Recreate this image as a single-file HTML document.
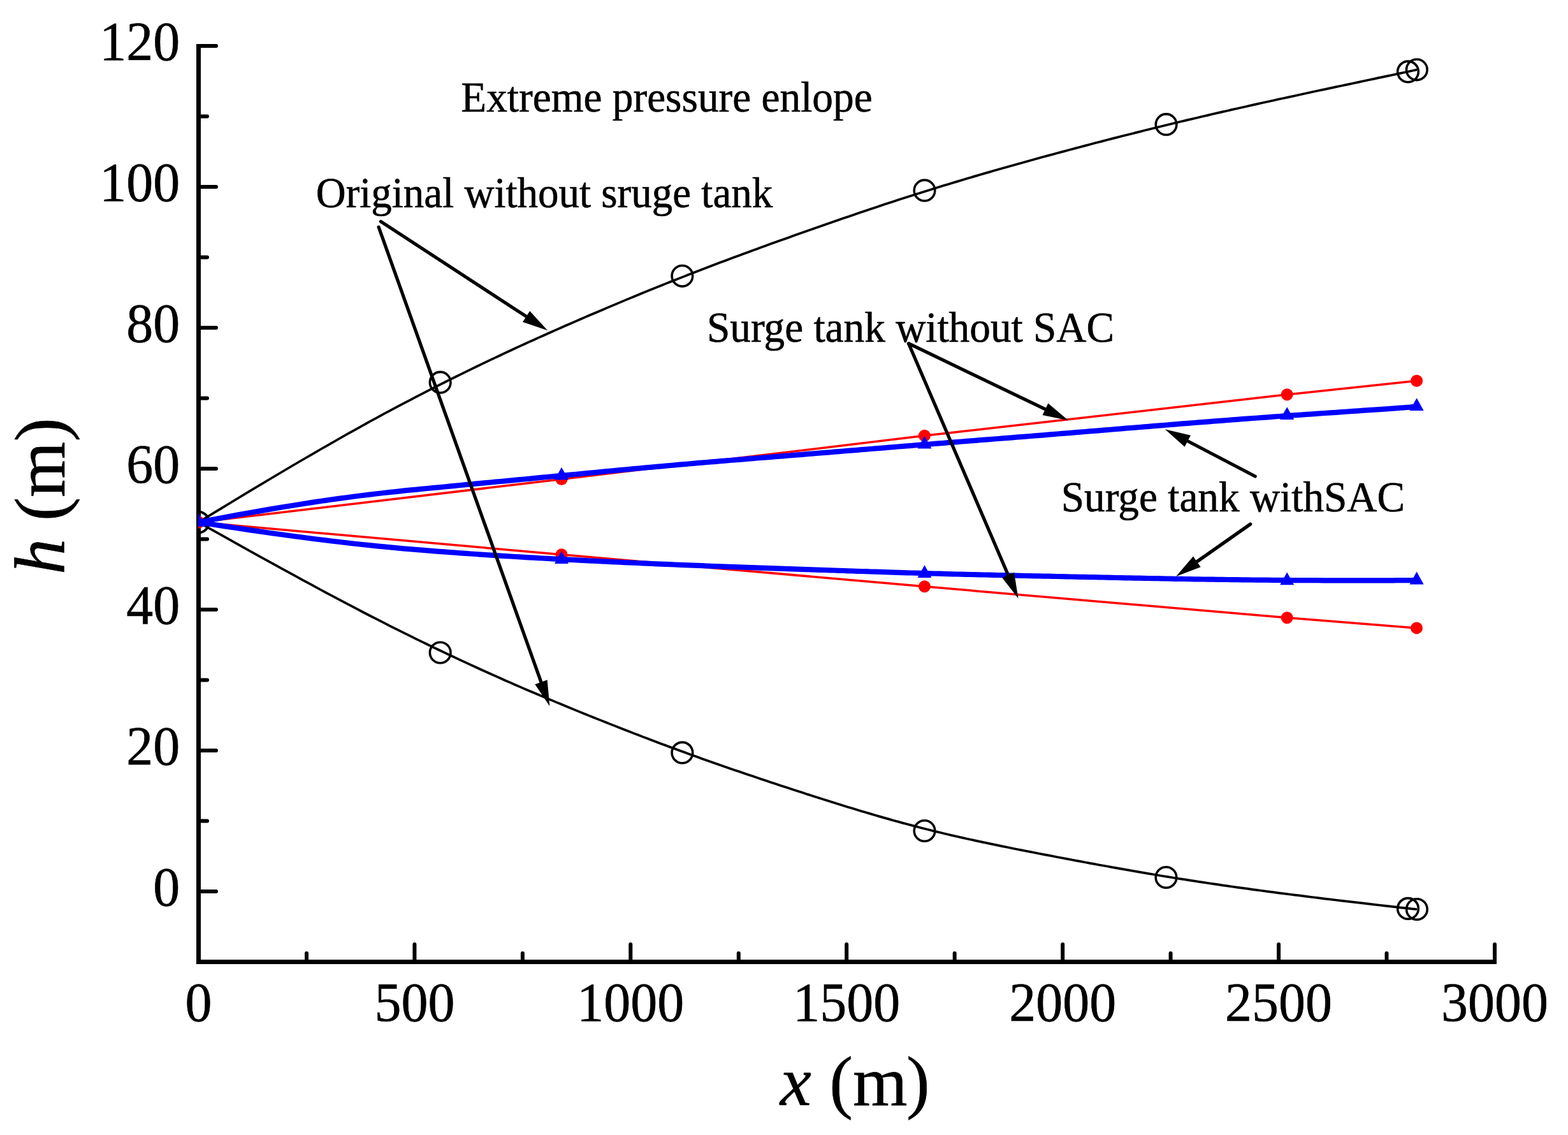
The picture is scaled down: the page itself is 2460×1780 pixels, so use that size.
<!DOCTYPE html>
<html lang="en"><head><meta charset="utf-8"><title>Extreme pressure envelope</title>
<style>html,body{margin:0;padding:0;background:#fff}svg{display:block}text{font-family:"Liberation Serif", serif;fill:#000}</style></head><body>
<svg width="2460" height="1780" viewBox="0 0 2460 1780" role="img" aria-label="Extreme pressure envelope chart">
<rect width="2460" height="1780" fill="#fff"/>
<defs><clipPath id="plot"><rect x="311" y="0" width="2149" height="1510"/></clipPath></defs>
<g stroke="#000" fill="none">
<path d="M311.5 69V1512M308 1508.5H2348" stroke-width="7"/>
<path d="M312 1398.0H339M312 1177.0H339M312 956.0H339M312 735.0H339M312 514.0H339M312 293.0H339M312 72.0H339M312 1287.5H325M312 1066.5H325M312 845.5H325M312 624.5H325M312 403.5H325M312 182.5H325M650.4 1508V1481M989.3 1508V1481M1328.2 1508V1481M1667.2 1508V1481M2006.1 1508V1481M2345.0 1508V1481M481.0 1508V1495M819.9 1508V1495M1158.8 1508V1495M1497.7 1508V1495M1836.6 1508V1495M2175.5 1508V1495" stroke-width="6" stroke-linecap="round"/>
</g>
<g clip-path="url(#plot)" fill="none" stroke-linejoin="round">
<polyline points="311.5,819.0 332.5,806.1 352.8,793.8 372.3,782.0 391.1,770.7 409.1,759.8 426.5,749.5 443.3,739.5 459.4,730.0 474.8,721.0 489.8,712.3 504.1,704.0 518.0,696.1 531.3,688.5 544.1,681.2 556.5,674.3 568.5,667.6 580.1,661.2 591.3,655.1 602.1,649.2 612.6,643.6 622.8,638.1 632.8,632.9 642.5,627.8 651.9,622.9 661.2,618.1 670.3,613.4 679.2,608.9 688.0,604.4 696.7,600.0 705.3,595.7 713.7,591.5 722.1,587.4 730.3,583.4 738.4,579.4 746.4,575.5 754.4,571.7 762.2,567.9 770.0,564.2 777.7,560.6 785.3,557.0 792.8,553.4 800.3,550.0 807.7,546.5 815.1,543.1 822.5,539.8 829.8,536.4 837.0,533.2 844.2,529.9 851.4,526.7 858.6,523.5 865.8,520.3 872.9,517.1 880.1,514.0 887.2,510.8 894.4,507.7 901.5,504.6 908.7,501.5 915.8,498.4 923.0,495.3 930.1,492.3 937.3,489.2 944.4,486.2 951.6,483.1 958.7,480.1 965.9,477.1 973.0,474.1 980.1,471.1 987.3,468.1 994.4,465.2 1001.6,462.2 1008.7,459.3 1015.9,456.4 1023.0,453.5 1030.2,450.6 1037.3,447.7 1044.5,444.9 1051.6,442.0 1058.8,439.2 1065.9,436.4 1073.1,433.6 1080.2,430.8 1087.3,428.0 1094.5,425.2 1101.6,422.5 1108.8,419.7 1115.9,417.0 1123.1,414.3 1130.2,411.6 1137.4,408.9 1144.5,406.2 1151.7,403.6 1158.8,400.9 1166.0,398.3 1173.1,395.7 1180.3,393.0 1187.4,390.4 1194.6,387.8 1201.7,385.2 1208.8,382.6 1216.0,380.1 1223.1,377.5 1230.3,374.9 1237.4,372.4 1244.6,369.8 1251.7,367.3 1258.9,364.8 1266.0,362.3 1273.2,359.7 1280.3,357.2 1287.5,354.7 1294.6,352.2 1301.8,349.7 1308.9,347.3 1316.1,344.8 1323.2,342.3 1330.3,339.9 1337.5,337.4 1344.6,335.0 1351.8,332.6 1358.9,330.2 1366.1,327.8 1373.2,325.4 1380.4,323.0 1387.5,320.6 1394.7,318.3 1401.8,316.0 1409.0,313.6 1416.1,311.3 1423.3,309.0 1430.4,306.7 1437.6,304.4 1444.7,302.2 1451.8,299.9 1459.0,297.7 1466.1,295.5 1473.3,293.3 1480.4,291.1 1487.6,288.9 1494.7,286.7 1501.9,284.6 1509.0,282.5 1516.2,280.3 1523.3,278.2 1530.5,276.1 1537.6,274.0 1544.8,271.9 1551.9,269.9 1559.1,267.8 1566.2,265.8 1573.3,263.7 1580.5,261.7 1587.6,259.7 1594.8,257.7 1601.9,255.7 1609.1,253.7 1616.2,251.7 1623.4,249.8 1630.5,247.8 1637.7,245.8 1644.8,243.9 1652.0,242.0 1659.1,240.0 1666.3,238.1 1673.4,236.2 1680.6,234.3 1687.7,232.4 1694.8,230.5 1702.0,228.6 1709.1,226.7 1716.3,224.8 1723.4,223.0 1730.6,221.1 1737.7,219.3 1744.9,217.4 1752.0,215.6 1759.2,213.8 1766.3,212.0 1773.5,210.2 1780.6,208.4 1787.8,206.6 1794.9,204.8 1802.1,203.0 1809.2,201.2 1816.3,199.5 1823.5,197.7 1830.6,196.0 1837.8,194.3 1844.9,192.5 1852.1,190.8 1859.3,189.1 1866.5,187.4 1873.7,185.7 1881.0,184.0 1888.3,182.3 1895.6,180.6 1903.0,178.8 1910.4,177.1 1917.9,175.4 1925.5,173.7 1933.1,171.9 1940.8,170.2 1948.5,168.5 1956.4,166.7 1964.3,164.9 1972.3,163.1 1980.5,161.3 1988.7,159.5 1997.0,157.7 2005.4,155.8 2014.0,154.0 2022.7,152.1 2031.5,150.2 2040.4,148.2 2049.5,146.3 2058.6,144.3 2067.8,142.3 2077.1,140.4 2086.3,138.4 2095.5,136.4 2104.6,134.5 2113.6,132.6 2122.4,130.7 2131.2,128.9 2139.7,127.0 2148.0,125.3 2156.0,123.6 2163.7,121.9 2171.2,120.4 2178.3,118.9 2185.0,117.5 2191.2,116.1 2197.1,114.9 2202.5,113.7 2207.3,112.7 2211.7,111.8 2215.4,111.0 2218.6,110.3 2221.1,109.7 2223.0,109.3" stroke="#000" stroke-width="3.7"/>
<polyline points="311.5,819.0 332.5,830.9 352.8,842.2 372.3,853.1 391.1,863.6 409.1,873.6 426.5,883.2 443.3,892.4 459.4,901.2 474.8,909.7 489.8,917.7 504.1,925.5 518.0,932.9 531.3,939.9 544.1,946.7 556.5,953.2 568.5,959.5 580.1,965.5 591.3,971.2 602.1,976.7 612.6,982.1 622.8,987.2 632.8,992.1 642.5,996.9 651.9,1001.6 661.2,1006.1 670.3,1010.5 679.2,1014.8 688.0,1019.0 696.7,1023.2 705.3,1027.2 713.7,1031.2 722.1,1035.1 730.3,1038.9 738.4,1042.7 746.4,1046.3 754.4,1050.0 762.2,1053.5 770.0,1057.0 777.7,1060.4 785.3,1063.8 792.8,1067.2 800.3,1070.4 807.7,1073.7 815.1,1076.9 822.5,1080.1 829.8,1083.2 837.0,1086.3 844.2,1089.3 851.4,1092.4 858.6,1095.4 865.8,1098.4 872.9,1101.4 880.1,1104.3 887.2,1107.3 894.4,1110.2 901.5,1113.1 908.7,1116.1 915.8,1119.0 923.0,1121.9 930.1,1124.7 937.3,1127.6 944.4,1130.4 951.6,1133.3 958.7,1136.1 965.9,1138.9 973.0,1141.7 980.1,1144.5 987.3,1147.3 994.4,1150.1 1001.6,1152.8 1008.7,1155.6 1015.9,1158.3 1023.0,1161.0 1030.2,1163.7 1037.3,1166.4 1044.5,1169.0 1051.6,1171.7 1058.8,1174.3 1065.9,1176.9 1073.1,1179.6 1080.2,1182.2 1087.3,1184.7 1094.5,1187.3 1101.6,1189.9 1108.8,1192.4 1115.9,1194.9 1123.1,1197.4 1130.2,1199.9 1137.4,1202.4 1144.5,1204.9 1151.7,1207.4 1158.8,1209.8 1166.0,1212.3 1173.1,1214.7 1180.3,1217.1 1187.4,1219.5 1194.6,1221.9 1201.7,1224.3 1208.8,1226.7 1216.0,1229.1 1223.1,1231.4 1230.3,1233.8 1237.4,1236.1 1244.6,1238.4 1251.7,1240.8 1258.9,1243.1 1266.0,1245.4 1273.2,1247.7 1280.3,1250.0 1287.5,1252.2 1294.6,1254.5 1301.8,1256.8 1308.9,1259.0 1316.1,1261.2 1323.2,1263.5 1330.3,1265.7 1337.5,1267.8 1344.6,1270.0 1351.8,1272.2 1358.9,1274.3 1366.1,1276.4 1373.2,1278.5 1380.4,1280.6 1387.5,1282.6 1394.7,1284.6 1401.8,1286.7 1409.0,1288.6 1416.1,1290.6 1423.3,1292.5 1430.4,1294.4 1437.6,1296.3 1444.7,1298.2 1451.8,1300.0 1459.0,1301.8 1466.1,1303.6 1473.3,1305.3 1480.4,1307.0 1487.6,1308.7 1494.7,1310.4 1501.9,1312.0 1509.0,1313.6 1516.2,1315.2 1523.3,1316.8 1530.5,1318.4 1537.6,1319.9 1544.8,1321.4 1551.9,1322.9 1559.1,1324.4 1566.2,1325.9 1573.3,1327.4 1580.5,1328.8 1587.6,1330.3 1594.8,1331.7 1601.9,1333.1 1609.1,1334.5 1616.2,1335.9 1623.4,1337.3 1630.5,1338.7 1637.7,1340.1 1644.8,1341.4 1652.0,1342.8 1659.1,1344.2 1666.3,1345.5 1673.4,1346.9 1680.6,1348.2 1687.7,1349.6 1694.8,1350.9 1702.0,1352.2 1709.1,1353.6 1716.3,1354.9 1723.4,1356.2 1730.6,1357.5 1737.7,1358.8 1744.9,1360.1 1752.0,1361.4 1759.2,1362.6 1766.3,1363.9 1773.5,1365.1 1780.6,1366.4 1787.8,1367.6 1794.9,1368.9 1802.1,1370.1 1809.2,1371.3 1816.3,1372.5 1823.5,1373.7 1830.6,1374.8 1837.8,1376.0 1844.9,1377.2 1852.1,1378.3 1859.3,1379.4 1866.5,1380.6 1873.7,1381.7 1881.0,1382.8 1888.3,1383.9 1895.6,1385.0 1903.0,1386.1 1910.4,1387.2 1917.9,1388.3 1925.5,1389.4 1933.1,1390.5 1940.8,1391.6 1948.5,1392.6 1956.4,1393.7 1964.3,1394.8 1972.3,1395.9 1980.5,1397.0 1988.7,1398.1 1997.0,1399.2 2005.4,1400.3 2014.0,1401.4 2022.7,1402.5 2031.5,1403.6 2040.4,1404.7 2049.5,1405.9 2058.6,1407.0 2067.8,1408.1 2077.1,1409.3 2086.3,1410.4 2095.5,1411.5 2104.6,1412.6 2113.6,1413.7 2122.4,1414.7 2131.2,1415.7 2139.7,1416.7 2148.0,1417.7 2156.0,1418.6 2163.7,1419.5 2171.2,1420.4 2178.3,1421.2 2185.0,1421.9 2191.2,1422.6 2197.1,1423.3 2202.5,1423.9 2207.3,1424.4 2211.7,1424.9 2215.4,1425.3 2218.6,1425.6 2221.1,1425.8 2223.0,1426.0" stroke="#000" stroke-width="3.7"/>
<circle cx="311.5" cy="819.0" r="16.3" stroke="#000" stroke-width="3.6"/>
<circle cx="690.7" cy="599.7" r="16.3" stroke="#000" stroke-width="3.6"/>
<circle cx="1070.4" cy="432.8" r="16.3" stroke="#000" stroke-width="3.6"/>
<circle cx="1450.5" cy="298.7" r="16.3" stroke="#000" stroke-width="3.6"/>
<circle cx="1829.6" cy="195.2" r="16.3" stroke="#000" stroke-width="3.6"/>
<circle cx="2209.0" cy="112.4" r="16.3" stroke="#000" stroke-width="3.6"/>
<circle cx="2222.8" cy="109.3" r="16.3" stroke="#000" stroke-width="3.6"/>
<circle cx="311.5" cy="819.0" r="16.3" stroke="#000" stroke-width="3.6"/>
<circle cx="690.7" cy="1023.5" r="16.3" stroke="#000" stroke-width="3.6"/>
<circle cx="1070.4" cy="1180.4" r="16.3" stroke="#000" stroke-width="3.6"/>
<circle cx="1450.5" cy="1303.0" r="16.3" stroke="#000" stroke-width="3.6"/>
<circle cx="1829.5" cy="1376.0" r="16.3" stroke="#000" stroke-width="3.6"/>
<circle cx="2209.0" cy="1424.9" r="16.3" stroke="#000" stroke-width="3.6"/>
<circle cx="2222.9" cy="1426.0" r="16.3" stroke="#000" stroke-width="3.6"/>
<polyline points="311.5,819.0 881.0,751.5 1450.5,683.3 2019.2,618.8 2222.6,597.2" stroke="#f00" stroke-width="3.5"/>
<polyline points="311.5,819.0 881.0,869.8 1450.5,919.8 2019.2,968.8 2222.5,984.9" stroke="#f00" stroke-width="3.5"/>
<circle cx="311.5" cy="819.0" r="9.5" fill="#f00"/>
<circle cx="881.0" cy="751.5" r="9.5" fill="#f00"/>
<circle cx="1450.5" cy="683.3" r="9.5" fill="#f00"/>
<circle cx="2019.2" cy="618.8" r="9.5" fill="#f00"/>
<circle cx="2222.6" cy="597.2" r="9.5" fill="#f00"/>
<circle cx="311.5" cy="819.0" r="9.5" fill="#f00"/>
<circle cx="881.0" cy="869.8" r="9.5" fill="#f00"/>
<circle cx="1450.5" cy="919.8" r="9.5" fill="#f00"/>
<circle cx="2019.2" cy="968.8" r="9.5" fill="#f00"/>
<circle cx="2222.5" cy="984.9" r="9.5" fill="#f00"/>
<polyline points="311.5,819.0 332.5,815.0 352.8,811.2 372.3,807.6 391.1,804.2 409.1,801.1 426.5,798.1 443.3,795.3 459.4,792.7 474.8,790.2 489.8,787.9 504.1,785.8 518.0,783.8 531.3,781.9 544.1,780.2 556.5,778.5 568.5,777.0 580.1,775.6 591.3,774.3 602.1,773.0 612.6,771.9 622.8,770.8 632.8,769.7 642.5,768.7 651.9,767.8 661.2,766.9 670.3,766.0 679.2,765.1 688.0,764.3 696.7,763.5 705.3,762.6 713.7,761.8 722.1,761.0 730.3,760.2 738.4,759.5 746.4,758.7 754.4,757.9 762.2,757.2 770.0,756.5 777.7,755.7 785.3,755.0 792.8,754.3 800.3,753.6 807.7,752.9 815.1,752.2 822.5,751.5 829.8,750.8 837.0,750.1 844.2,749.4 851.4,748.7 858.6,748.0 865.8,747.4 872.9,746.7 880.1,746.0 887.2,745.3 894.4,744.7 901.5,744.0 908.7,743.3 915.8,742.6 923.0,741.9 930.1,741.3 937.3,740.6 944.4,739.9 951.6,739.2 958.7,738.5 965.9,737.9 973.0,737.2 980.1,736.5 987.3,735.9 994.4,735.2 1001.6,734.5 1008.7,733.9 1015.9,733.2 1023.0,732.6 1030.2,731.9 1037.3,731.3 1044.5,730.6 1051.6,730.0 1058.8,729.3 1065.9,728.7 1073.1,728.1 1080.2,727.5 1087.3,726.9 1094.5,726.2 1101.6,725.6 1108.8,725.0 1115.9,724.4 1123.1,723.8 1130.2,723.2 1137.4,722.6 1144.5,722.0 1151.7,721.5 1158.8,720.9 1166.0,720.3 1173.1,719.7 1180.3,719.1 1187.4,718.5 1194.6,718.0 1201.7,717.4 1208.8,716.8 1216.0,716.2 1223.1,715.7 1230.3,715.1 1237.4,714.5 1244.6,713.9 1251.7,713.3 1258.9,712.8 1266.0,712.2 1273.2,711.6 1280.3,711.0 1287.5,710.4 1294.6,709.9 1301.8,709.3 1308.9,708.7 1316.1,708.1 1323.2,707.5 1330.3,706.9 1337.5,706.4 1344.6,705.8 1351.8,705.2 1358.9,704.6 1366.1,704.0 1373.2,703.4 1380.4,702.8 1387.5,702.3 1394.7,701.7 1401.8,701.1 1409.0,700.5 1416.1,699.9 1423.3,699.4 1430.4,698.8 1437.6,698.2 1444.7,697.6 1451.8,697.0 1459.0,696.5 1466.1,695.9 1473.3,695.3 1480.4,694.8 1487.6,694.2 1494.7,693.6 1501.9,693.1 1509.0,692.5 1516.2,691.9 1523.3,691.4 1530.5,690.8 1537.6,690.2 1544.8,689.7 1551.9,689.1 1559.1,688.5 1566.2,688.0 1573.3,687.4 1580.5,686.8 1587.6,686.3 1594.8,685.7 1601.9,685.1 1609.1,684.6 1616.2,684.0 1623.4,683.4 1630.5,682.8 1637.7,682.3 1644.8,681.7 1652.0,681.1 1659.1,680.5 1666.3,679.9 1673.4,679.4 1680.6,678.8 1687.7,678.2 1694.8,677.6 1702.0,677.0 1709.1,676.4 1716.3,675.8 1723.4,675.3 1730.6,674.7 1737.7,674.1 1744.9,673.5 1752.0,672.9 1759.2,672.3 1766.3,671.7 1773.5,671.1 1780.6,670.6 1787.8,670.0 1794.9,669.4 1802.1,668.8 1809.2,668.2 1816.3,667.6 1823.5,667.1 1830.6,666.5 1837.8,665.9 1844.9,665.3 1852.1,664.7 1859.3,664.2 1866.5,663.6 1873.7,663.0 1881.0,662.4 1888.3,661.9 1895.6,661.3 1903.0,660.7 1910.4,660.1 1917.9,659.6 1925.5,659.0 1933.1,658.4 1940.8,657.8 1948.5,657.2 1956.4,656.6 1964.3,656.0 1972.3,655.5 1980.5,654.9 1988.7,654.3 1997.0,653.6 2005.4,653.0 2014.0,652.4 2022.7,651.8 2031.5,651.2 2040.4,650.6 2049.5,649.9 2058.6,649.3 2067.8,648.7 2077.1,648.0 2086.3,647.4 2095.5,646.8 2104.6,646.2 2113.6,645.5 2122.4,644.9 2131.2,644.3 2139.7,643.7 2148.0,643.2 2156.0,642.6 2163.7,642.1 2171.2,641.6 2178.3,641.1 2185.0,640.6 2191.2,640.1 2197.1,639.7 2202.5,639.3 2207.3,638.9 2211.7,638.6 2215.4,638.2 2218.6,638.0 2221.1,637.7 2223.0,637.5" stroke="#00f" stroke-width="8.2"/>
<polyline points="311.5,819.0 332.5,822.3 352.8,825.4 372.3,828.3 391.1,831.1 409.1,833.7 426.5,836.2 443.3,838.5 459.4,840.7 474.8,842.8 489.8,844.7 504.1,846.5 518.0,848.2 531.3,849.8 544.1,851.3 556.5,852.7 568.5,854.0 580.1,855.2 591.3,856.4 602.1,857.4 612.6,858.4 622.8,859.4 632.8,860.3 642.5,861.1 651.9,861.9 661.2,862.7 670.3,863.4 679.2,864.1 688.0,864.8 696.7,865.4 705.3,866.1 713.7,866.7 722.1,867.3 730.3,867.9 738.4,868.5 746.4,869.0 754.4,869.6 762.2,870.1 770.0,870.6 777.7,871.1 785.3,871.6 792.8,872.1 800.3,872.5 807.7,873.0 815.1,873.4 822.5,873.9 829.8,874.3 837.0,874.7 844.2,875.1 851.4,875.5 858.6,875.9 865.8,876.3 872.9,876.7 880.1,877.1 887.2,877.4 894.4,877.8 901.5,878.2 908.7,878.6 915.8,878.9 923.0,879.3 930.1,879.7 937.3,880.0 944.4,880.4 951.6,880.7 958.7,881.1 965.9,881.4 973.0,881.7 980.1,882.1 987.3,882.4 994.4,882.7 1001.6,883.0 1008.7,883.4 1015.9,883.7 1023.0,884.0 1030.2,884.3 1037.3,884.6 1044.5,884.9 1051.6,885.2 1058.8,885.5 1065.9,885.8 1073.1,886.1 1080.2,886.4 1087.3,886.7 1094.5,886.9 1101.6,887.2 1108.8,887.5 1115.9,887.8 1123.1,888.0 1130.2,888.3 1137.4,888.6 1144.5,888.8 1151.7,889.1 1158.8,889.3 1166.0,889.6 1173.1,889.8 1180.3,890.1 1187.4,890.3 1194.6,890.6 1201.7,890.8 1208.8,891.1 1216.0,891.3 1223.1,891.6 1230.3,891.8 1237.4,892.1 1244.6,892.3 1251.7,892.6 1258.9,892.8 1266.0,893.1 1273.2,893.3 1280.3,893.6 1287.5,893.8 1294.6,894.0 1301.8,894.3 1308.9,894.5 1316.1,894.8 1323.2,895.0 1330.3,895.3 1337.5,895.5 1344.6,895.8 1351.8,896.0 1358.9,896.2 1366.1,896.5 1373.2,896.7 1380.4,896.9 1387.5,897.2 1394.7,897.4 1401.8,897.6 1409.0,897.8 1416.1,898.1 1423.3,898.3 1430.4,898.5 1437.6,898.7 1444.7,898.9 1451.8,899.1 1459.0,899.3 1466.1,899.5 1473.3,899.7 1480.4,899.9 1487.6,900.1 1494.7,900.3 1501.9,900.5 1509.0,900.6 1516.2,900.8 1523.3,901.0 1530.5,901.2 1537.6,901.3 1544.8,901.5 1551.9,901.7 1559.1,901.8 1566.2,902.0 1573.3,902.2 1580.5,902.3 1587.6,902.5 1594.8,902.6 1601.9,902.8 1609.1,903.0 1616.2,903.1 1623.4,903.3 1630.5,903.4 1637.7,903.6 1644.8,903.7 1652.0,903.9 1659.1,904.0 1666.3,904.2 1673.4,904.3 1680.6,904.5 1687.7,904.6 1694.8,904.8 1702.0,904.9 1709.1,905.1 1716.3,905.2 1723.4,905.4 1730.6,905.5 1737.7,905.7 1744.9,905.8 1752.0,906.0 1759.2,906.1 1766.3,906.3 1773.5,906.4 1780.6,906.6 1787.8,906.7 1794.9,906.8 1802.1,907.0 1809.2,907.1 1816.3,907.2 1823.5,907.4 1830.6,907.5 1837.8,907.6 1844.9,907.8 1852.1,907.9 1859.3,908.0 1866.5,908.1 1873.7,908.3 1881.0,908.4 1888.3,908.5 1895.6,908.6 1903.0,908.7 1910.4,908.8 1917.9,908.9 1925.5,909.0 1933.1,909.1 1940.8,909.2 1948.5,909.3 1956.4,909.4 1964.3,909.5 1972.3,909.6 1980.5,909.7 1988.7,909.7 1997.0,909.8 2005.4,909.9 2014.0,909.9 2022.7,910.0 2031.5,910.1 2040.4,910.1 2049.5,910.2 2058.6,910.2 2067.8,910.2 2077.1,910.3 2086.3,910.3 2095.5,910.3 2104.6,910.3 2113.6,910.3 2122.4,910.4 2131.2,910.4 2139.7,910.4 2148.0,910.4 2156.0,910.4 2163.7,910.3 2171.2,910.3 2178.3,910.3 2185.0,910.3 2191.2,910.2 2197.1,910.2 2202.5,910.2 2207.3,910.1 2211.7,910.1 2215.4,910.0 2218.6,909.9 2221.1,909.9 2223.0,909.8" stroke="#00f" stroke-width="8.2"/>
<polygon points="311.5,805.8 300.5,825.6 322.5,825.6" fill="#00f"/>
<polygon points="881.0,732.8 870.0,752.6 892.0,752.6" fill="#00f"/>
<polygon points="1450.5,683.8 1439.5,703.6 1461.5,703.6" fill="#00f"/>
<polygon points="2019.2,638.3 2008.2,658.1 2030.2,658.1" fill="#00f"/>
<polygon points="2222.6,624.3 2211.6,644.1 2233.6,644.1" fill="#00f"/>
<polygon points="311.5,805.8 300.5,825.6 322.5,825.6" fill="#00f"/>
<polygon points="881.0,864.3 870.0,884.1 892.0,884.1" fill="#00f"/>
<polygon points="1450.5,886.3 1439.5,906.1 1461.5,906.1" fill="#00f"/>
<polygon points="2019.2,897.4 2008.2,917.2 2030.2,917.2" fill="#00f"/>
<polygon points="2222.6,896.6 2211.6,916.4 2233.6,916.4" fill="#00f"/>
</g>
<text transform="translate(282.20 1420.30) scale(1 1.0400)" font-size="84.00" text-anchor="end" stroke="#000" stroke-width="0.60">0</text>
<text transform="translate(282.20 1199.30) scale(1 1.0400)" font-size="84.00" text-anchor="end" stroke="#000" stroke-width="0.60">20</text>
<text transform="translate(282.20 978.30) scale(1 1.0400)" font-size="84.00" text-anchor="end" stroke="#000" stroke-width="0.60">40</text>
<text transform="translate(282.20 757.30) scale(1 1.0400)" font-size="84.00" text-anchor="end" stroke="#000" stroke-width="0.60">60</text>
<text transform="translate(282.20 536.30) scale(1 1.0400)" font-size="84.00" text-anchor="end" stroke="#000" stroke-width="0.60">80</text>
<text transform="translate(282.20 315.30) scale(1 1.0400)" font-size="84.00" text-anchor="end" stroke="#000" stroke-width="0.60">100</text>
<text transform="translate(282.20 94.30) scale(1 1.0400)" font-size="84.00" text-anchor="end" stroke="#000" stroke-width="0.60">120</text>
<text transform="translate(311.50 1601.20) scale(1 1.0400)" font-size="84.00" text-anchor="middle" stroke="#000" stroke-width="0.60">0</text>
<text transform="translate(650.42 1601.20) scale(1 1.0400)" font-size="84.00" text-anchor="middle" stroke="#000" stroke-width="0.60">500</text>
<text transform="translate(989.33 1601.20) scale(1 1.0400)" font-size="84.00" text-anchor="middle" stroke="#000" stroke-width="0.60">1000</text>
<text transform="translate(1328.25 1601.20) scale(1 1.0400)" font-size="84.00" text-anchor="middle" stroke="#000" stroke-width="0.60">1500</text>
<text transform="translate(1667.17 1601.20) scale(1 1.0400)" font-size="84.00" text-anchor="middle" stroke="#000" stroke-width="0.60">2000</text>
<text transform="translate(2006.08 1601.20) scale(1 1.0400)" font-size="84.00" text-anchor="middle" stroke="#000" stroke-width="0.60">2500</text>
<text transform="translate(2345.00 1601.20) scale(1 1.0400)" font-size="84.00" text-anchor="middle" stroke="#000" stroke-width="0.60">3000</text>
<text transform="translate(1224.00 1732.60) scale(1 1.0000)" font-size="110.00" text-anchor="start" stroke="#000" stroke-width="0.60"><tspan font-style="italic">x</tspan><tspan dx="1"> (m</tspan><tspan dx="-1.5">)</tspan></text>
<text transform="translate(101.00 901.00) rotate(-90) scale(1 1.0000)" font-size="112.00" text-anchor="start" stroke="#000" stroke-width="0.60"><tspan font-style="italic">h</tspan> (m)</text>
<text transform="translate(723.30 175.00) scale(1 1.0500)" font-size="65.30" text-anchor="start" stroke="#000" stroke-width="0.60">Extreme pressure enlope</text>
<text transform="translate(495.70 324.80) scale(1 1.0550)" font-size="65.00" text-anchor="start" stroke="#000" stroke-width="0.60">Original without sruge tank</text>
<text transform="translate(1109.00 536.20) scale(1 1.0500)" font-size="65.30" text-anchor="start" stroke="#000" stroke-width="0.60">Surge tank without SAC</text>
<text transform="translate(1664.80 802.00) scale(1 1.0500)" font-size="65.30" text-anchor="start" stroke="#000" stroke-width="0.60">Surge tank withSAC</text>
<line x1="597.4" y1="347.4" x2="827.3" y2="497.4" stroke="#000" stroke-width="5.2" stroke-linecap="round"/>
<polygon points="859.1,518.2 820.0,504.9 831.2,487.7" fill="#000"/>
<line x1="594.1" y1="356.2" x2="849.6" y2="1071.6" stroke="#000" stroke-width="5.2" stroke-linecap="round"/>
<polygon points="862.4,1107.4 839.3,1073.2 858.6,1066.3" fill="#000"/>
<line x1="1425.5" y1="538.7" x2="1641.7" y2="642.7" stroke="#000" stroke-width="5.2" stroke-linecap="round"/>
<polygon points="1676.0,659.2 1635.5,651.1 1644.4,632.6" fill="#000"/>
<line x1="1425.5" y1="538.7" x2="1582.5" y2="903.7" stroke="#000" stroke-width="5.2" stroke-linecap="round"/>
<polygon points="1597.5,938.6 1572.3,905.9 1591.1,897.8" fill="#000"/>
<line x1="1969.2" y1="747.0" x2="1861.5" y2="690.8" stroke="#000" stroke-width="5.2" stroke-linecap="round"/>
<polygon points="1827.8,673.2 1868.0,682.7 1858.6,700.8" fill="#000"/>
<line x1="1961.7" y1="822.0" x2="1876.2" y2="882.0" stroke="#000" stroke-width="5.2" stroke-linecap="round"/>
<polygon points="1845.1,903.9 1872.0,872.5 1883.7,889.3" fill="#000"/>
</svg></body></html>
